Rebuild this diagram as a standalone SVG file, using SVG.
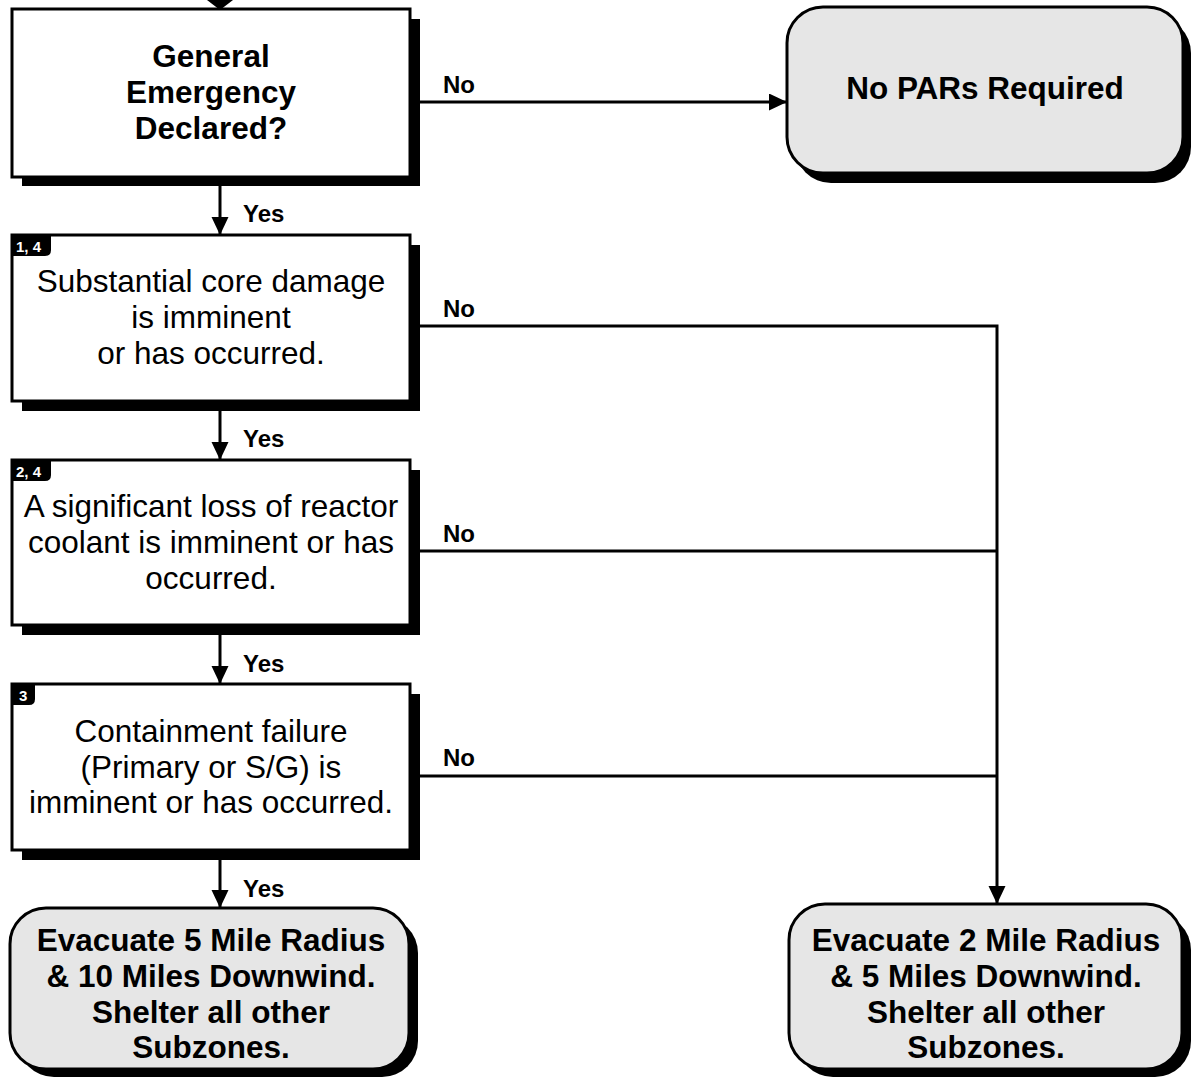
<svg xmlns="http://www.w3.org/2000/svg" width="1191" height="1078" viewBox="0 0 1191 1078">
  <style>
    .box { fill: #ffffff; stroke: #000000; stroke-width: 3; }
    .term { fill: #e6e6e6; stroke: #000000; stroke-width: 3; }
    .shadow { fill: #000000; stroke: none; }
    .conn { fill: none; stroke: #000000; stroke-width: 3; }
    .q { font-family: "Liberation Sans", Arial, Helvetica, sans-serif; font-size: 31.5px; font-weight: bold; fill: #000; text-anchor: middle; }
    .t { font-family: "Liberation Sans", Arial, Helvetica, sans-serif; font-size: 31.5px; fill: #000; text-anchor: middle; }
    .lbl { font-family: "Liberation Sans", Arial, Helvetica, sans-serif; font-size: 24px; font-weight: bold; fill: #000; }
    .badge { fill: #000; }
    .bt { font-family: "Liberation Sans", Arial, Helvetica, sans-serif; font-size: 15px; font-weight: bold; fill: #fff; }
  </style>
  <defs>
    <marker id="arr" markerUnits="userSpaceOnUse" markerWidth="18" markerHeight="18" refX="18" refY="8.5" orient="auto">
      <path d="M0,0 L18,8.5 L0,17 z" fill="#000"/>
    </marker>
  </defs>

  <rect width="1191" height="1078" fill="#ffffff"/>

  <g id="connectors">
    <polygon points="207,0 233,0 220,10" fill="#000"/>
    <line class="conn" x1="220" y1="186" x2="220" y2="235" marker-end="url(#arr)"/>
    <line class="conn" x1="220" y1="411" x2="220" y2="460" marker-end="url(#arr)"/>
    <line class="conn" x1="220" y1="635" x2="220" y2="684" marker-end="url(#arr)"/>
    <line class="conn" x1="220" y1="860" x2="220" y2="908" marker-end="url(#arr)"/>
    <line class="conn" x1="420" y1="102" x2="787" y2="102" marker-end="url(#arr)"/>
    <polyline class="conn" points="420,326 997,326 997,904" marker-end="url(#arr)"/>
    <line class="conn" x1="420" y1="551" x2="997" y2="551"/>
    <line class="conn" x1="420" y1="776" x2="997" y2="776"/>
    <text class="lbl" x="243" y="222">Yes</text>
    <text class="lbl" x="243" y="447">Yes</text>
    <text class="lbl" x="243" y="672">Yes</text>
    <text class="lbl" x="243" y="897">Yes</text>
    <text class="lbl" x="443" y="93">No</text>
    <text class="lbl" x="443" y="317">No</text>
    <text class="lbl" x="443" y="542">No</text>
    <text class="lbl" x="443" y="766">No</text>
  </g>

  <g id="node-general-emergency">
    <rect class="shadow" x="22" y="19" width="398" height="167"/>
    <rect class="box" x="12" y="9" width="398" height="168"/>
    <text class="q" x="211" y="67">General</text>
    <text class="q" x="211" y="103">Emergency</text>
    <text class="q" x="211" y="139">Declared?</text>
  </g>

  <g id="node-core-damage">
    <rect class="shadow" x="22" y="245" width="398" height="166"/>
    <rect class="box" x="12" y="235" width="398" height="166"/>
    <path class="badge" d="M12,235 H51 V250 Q51,256 45,256 H12 z"/>
    <text class="bt" x="16" y="252">1, 4</text>
    <text class="t" x="211" y="292">Substantial core damage</text>
    <text class="t" x="211" y="328">is imminent</text>
    <text class="t" x="211" y="364">or has occurred.</text>
  </g>

  <g id="node-coolant-loss">
    <rect class="shadow" x="22" y="470" width="398" height="165"/>
    <rect class="box" x="12" y="460" width="398" height="165"/>
    <path class="badge" d="M12,460 H51 V475 Q51,481 45,481 H12 z"/>
    <text class="bt" x="16" y="477">2, 4</text>
    <text class="t" x="211" y="517">A significant loss of reactor</text>
    <text class="t" x="211" y="553">coolant is imminent or has</text>
    <text class="t" x="211" y="589">occurred.</text>
  </g>

  <g id="node-containment">
    <rect class="shadow" x="22" y="694" width="398" height="166"/>
    <rect class="box" x="12" y="684" width="398" height="166"/>
    <path class="badge" d="M12,684 H35 V699 Q35,705 29,705 H12 z"/>
    <text class="bt" x="19" y="701">3</text>
    <text class="t" x="211" y="742">Containment failure</text>
    <text class="t" x="211" y="778">(Primary or S/G) is</text>
    <text class="t" x="211" y="813">imminent or has occurred.</text>
  </g>

  <g id="node-no-pars">
    <rect class="shadow" x="795" y="17" width="396" height="166" rx="36"/>
    <rect class="term" x="787" y="7" width="396" height="166" rx="36"/>
    <text class="q" x="985" y="99">No PARs Required</text>
  </g>

  <g id="node-evacuate-5">
    <rect class="shadow" x="18" y="917" width="400" height="160" rx="36"/>
    <rect class="term" x="10" y="908" width="399" height="161" rx="36"/>
    <text class="q" x="211" y="951">Evacuate 5 Mile Radius</text>
    <text class="q" x="211" y="987">&amp; 10 Miles Downwind.</text>
    <text class="q" x="211" y="1023">Shelter all other</text>
    <text class="q" x="211" y="1058">Subzones.</text>
  </g>

  <g id="node-evacuate-2">
    <rect class="shadow" x="797" y="914" width="394" height="163" rx="36"/>
    <rect class="term" x="789" y="904" width="393" height="165" rx="36"/>
    <text class="q" x="986" y="951">Evacuate 2 Mile Radius</text>
    <text class="q" x="986" y="987">&amp; 5 Miles Downwind.</text>
    <text class="q" x="986" y="1023">Shelter all other</text>
    <text class="q" x="986" y="1058">Subzones.</text>
  </g>
</svg>
